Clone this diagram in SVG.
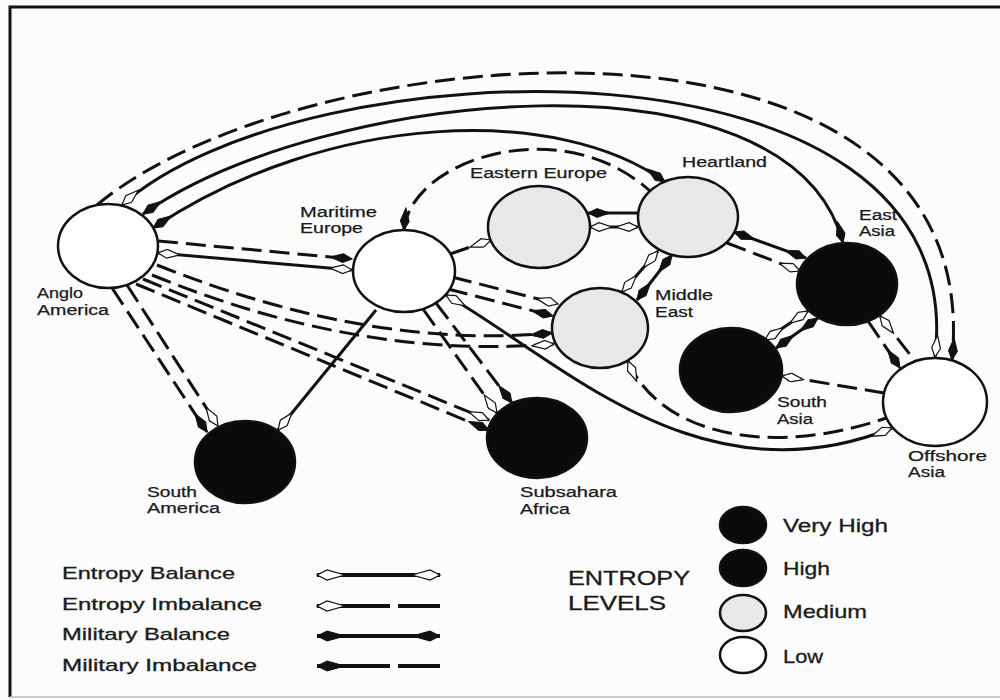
<svg xmlns="http://www.w3.org/2000/svg" width="1000" height="700" viewBox="0 0 1000 700">
<style>
.ln{fill:none;stroke:#111;stroke-width:3}
.ds{stroke-dasharray:20 8}
.nd{stroke:#111;stroke-width:2.5}
.low{fill:#fdfdfd}
.med{fill:#e8e8e8}
.hi{fill:#0a0a0a}
.t{font-family:"Liberation Sans",Arial,sans-serif;font-size:14px;fill:#1a1a1a;stroke:#1a1a1a;stroke-width:0.25}
.lg{font-family:"Liberation Sans",Arial,sans-serif;font-size:17px;fill:#1a1a1a;stroke:#1a1a1a;stroke-width:0.3}
.lv{font-family:"Liberation Sans",Arial,sans-serif;font-size:19px;fill:#1a1a1a;stroke:#1a1a1a;stroke-width:0.3}
.el{font-family:"Liberation Sans",Arial,sans-serif;font-size:20px;fill:#1a1a1a;stroke:#1a1a1a;stroke-width:0.3}
</style>
<defs>
<marker id="o" viewBox="0 0 24 10" refX="23" refY="5" markerWidth="24" markerHeight="10" markerUnits="userSpaceOnUse" orient="auto-start-reverse"><path d="M23,5 L14,0.6 L1,5 L14,9.4 Z" fill="#fff" stroke="#111" stroke-width="1.2"/></marker>
<marker id="f" viewBox="0 0 24 10" refX="23" refY="5" markerWidth="24" markerHeight="10" markerUnits="userSpaceOnUse" orient="auto-start-reverse"><path d="M23,5 L14,0.6 L1,5 L14,9.4 Z" fill="#111" stroke="#111" stroke-width="1"/></marker>
<marker id="lo" viewBox="0 0 30 12" refX="29" refY="6" markerWidth="30" markerHeight="12" markerUnits="userSpaceOnUse" orient="auto-start-reverse"><path d="M29,6 L19,1 L1,6 L19,11 Z" fill="#fff" stroke="#111" stroke-width="1.2"/></marker>
<marker id="lf" viewBox="0 0 30 12" refX="29" refY="6" markerWidth="30" markerHeight="12" markerUnits="userSpaceOnUse" orient="auto-start-reverse"><path d="M29,6 L19,1 L1,6 L19,11 Z" fill="#111" stroke="#111" stroke-width="1"/></marker>
</defs>
<rect x="0" y="0" width="1000" height="700" fill="#fcfcfc"/>
<path d="M1000,7 H10 V697" fill="none" stroke="#111" stroke-width="3"/>
<line x1="10" y1="697" x2="1000" y2="697" stroke="#bbb" stroke-width="1.5"/>

<g id="connectors">
<path class="ln ds" d="M97,205 C300,35 990,-25 952,360" marker-end="url(#f)"/>
<path class="ln" d="M122,205 C300,45 975,20 935,357" marker-start="url(#o)" marker-end="url(#o)"/>
<path class="ln" d="M143,214 C320,90 790,40 843,243" marker-start="url(#f)" marker-end="url(#f)"/>
<path class="ln" d="M153,228 C330,110 560,105 665,182" marker-start="url(#f)" marker-end="url(#f)"/>
<path class="ln ds" d="M158,241 L352,259" marker-end="url(#f)"/>
<path class="ln" d="M158,253 L352,270" marker-start="url(#o)" marker-end="url(#o)"/>
<path class="ln ds" d="M157,265 Q370,350 552,333" marker-end="url(#f)"/>
<path class="ln ds" d="M152,275 Q360,360 554,344" marker-end="url(#o)"/>
<path class="ln ds" d="M143,279 L489,420" marker-end="url(#o)"/>
<path class="ln ds" d="M136,284 L489,430" marker-end="url(#f)"/>
<path class="ln ds" d="M112,288 L207,432" marker-end="url(#f)"/>
<path class="ln ds" d="M127,285 L218,426" marker-end="url(#o)"/>
<path class="ln" d="M376,310 L278,430" marker-end="url(#o)"/>
<path class="ln ds" d="M452,277 L558,304" marker-end="url(#o)"/>
<path class="ln ds" d="M448,289 L553,316" marker-end="url(#f)"/>
<path class="ln ds" d="M423,309 L497,413" marker-end="url(#o)"/>
<path class="ln ds" d="M436,303 L512,403" marker-end="url(#f)"/>
<path class="ln" d="M446,295 C560,360 700,505 892,428" marker-start="url(#o)" marker-end="url(#o)"/>
<path class="ln ds" d="M450,254 L491,240" marker-end="url(#o)"/>
<path class="ln ds" d="M404,230 C410,160 560,110 650,191" marker-start="url(#f)"/>
<path class="ln" d="M638,213 L588,213" marker-end="url(#f)"/>
<path class="ln" d="M590,227 L638,227" marker-start="url(#o)" marker-end="url(#o)"/>
<path class="ln" d="M622,292 L658,251" marker-start="url(#o)" marker-end="url(#o)"/>
<path class="ln" d="M637,300 L672,255" marker-start="url(#f)" marker-end="url(#f)"/>
<path class="ln" d="M734,232 L806,258" marker-start="url(#f)" marker-end="url(#f)"/>
<path class="ln ds" d="M727,243 L800,271" marker-end="url(#o)"/>
<path class="ln" d="M765,340 L808,311" marker-start="url(#o)" marker-end="url(#o)"/>
<path class="ln" d="M776,348 L818,318" marker-start="url(#f)" marker-end="url(#f)"/>
<path class="ln ds" d="M868,321 L900,368" marker-end="url(#f)"/>
<path class="ln ds" d="M880,316 L915,361" marker-start="url(#o)"/>
<path class="ln ds" d="M782,376 L884,393" marker-start="url(#o)"/>
<path class="ln ds" d="M628,361 C660,435 770,458 886,418" marker-start="url(#o)"/>
</g>

<g id="anglo-america">
<ellipse class="nd low" cx="108" cy="246" rx="50" ry="42"/>
<text class="t" x="37" y="298" textLength="46" lengthAdjust="spacingAndGlyphs">Anglo</text>
<text class="t" x="37" y="315" textLength="72" lengthAdjust="spacingAndGlyphs">America</text>
</g>
<g id="maritime-europe">
<ellipse class="nd low" cx="404" cy="271" rx="51" ry="41"/>
<text class="t" x="300" y="217" textLength="77" lengthAdjust="spacingAndGlyphs">Maritime</text>
<text class="t" x="300" y="233" textLength="63" lengthAdjust="spacingAndGlyphs">Europe</text>
</g>
<g id="eastern-europe">
<ellipse class="nd med" cx="539" cy="227" rx="51" ry="41"/>
<text class="t" x="470" y="178" textLength="137" lengthAdjust="spacingAndGlyphs">Eastern Europe</text>
</g>
<g id="heartland">
<ellipse class="nd med" cx="688" cy="217" rx="50" ry="40"/>
<text class="t" x="682" y="167" textLength="85" lengthAdjust="spacingAndGlyphs">Heartland</text>
</g>
<g id="east-asia">
<ellipse class="nd hi" cx="847" cy="284" rx="50" ry="41"/>
<text class="t" x="859" y="220" textLength="38" lengthAdjust="spacingAndGlyphs">East</text>
<text class="t" x="859" y="236" textLength="36" lengthAdjust="spacingAndGlyphs">Asia</text>
</g>
<g id="middle-east">
<ellipse class="nd med" cx="600" cy="328" rx="48" ry="40"/>
<text class="t" x="655" y="300" textLength="58" lengthAdjust="spacingAndGlyphs">Middle</text>
<text class="t" x="655" y="317" textLength="38" lengthAdjust="spacingAndGlyphs">East</text>
</g>
<g id="south-asia">
<ellipse class="nd hi" cx="731" cy="370" rx="51" ry="42"/>
<text class="t" x="777" y="407" textLength="50" lengthAdjust="spacingAndGlyphs">South</text>
<text class="t" x="777" y="424" textLength="36" lengthAdjust="spacingAndGlyphs">Asia</text>
</g>
<g id="offshore-asia">
<ellipse class="nd low" cx="935" cy="402" rx="52" ry="44"/>
<text class="t" x="908" y="461" textLength="79" lengthAdjust="spacingAndGlyphs">Offshore</text>
<text class="t" x="908" y="477" textLength="37" lengthAdjust="spacingAndGlyphs">Asia</text>
</g>
<g id="south-america">
<ellipse class="nd hi" cx="245" cy="462" rx="50" ry="41"/>
<text class="t" x="147" y="497" textLength="50" lengthAdjust="spacingAndGlyphs">South</text>
<text class="t" x="147" y="513" textLength="73" lengthAdjust="spacingAndGlyphs">America</text>
</g>
<g id="subsahara-africa">
<ellipse class="nd hi" cx="537" cy="438" rx="50" ry="40"/>
<text class="t" x="520" y="497" textLength="97" lengthAdjust="spacingAndGlyphs">Subsahara</text>
<text class="t" x="520" y="514" textLength="50" lengthAdjust="spacingAndGlyphs">Africa</text>
</g>

<g id="legend-lines">
<text class="lg" x="62" y="579" textLength="173" lengthAdjust="spacingAndGlyphs">Entropy Balance</text>
<text class="lg" x="62" y="610" textLength="200" lengthAdjust="spacingAndGlyphs">Entropy Imbalance</text>
<text class="lg" x="62" y="640" textLength="168" lengthAdjust="spacingAndGlyphs">Military Balance</text>
<text class="lg" x="62" y="671" textLength="195" lengthAdjust="spacingAndGlyphs">Military Imbalance</text>
<path d="M317,575 H440" fill="none" stroke="#111" stroke-width="4" marker-start="url(#lo)" marker-end="url(#lo)"/>
<path d="M317,606 H440" fill="none" stroke="#111" stroke-width="4" stroke-dasharray="73 8 50" marker-start="url(#lo)"/>
<path d="M317,636 H440" fill="none" stroke="#111" stroke-width="4" marker-start="url(#lf)" marker-end="url(#lf)"/>
<path d="M317,666 H440" fill="none" stroke="#111" stroke-width="4" stroke-dasharray="73 8 50" marker-start="url(#lf)"/>
</g>
<g id="legend-levels">
<text class="el" x="568" y="585" textLength="122" lengthAdjust="spacingAndGlyphs">ENTROPY</text>
<text class="el" x="568" y="610" textLength="98" lengthAdjust="spacingAndGlyphs">LEVELS</text>
<ellipse class="nd hi" cx="743" cy="525" rx="23" ry="18"/>
<ellipse class="nd hi" cx="743" cy="568" rx="23" ry="18"/>
<ellipse class="nd med" cx="743" cy="613" rx="23" ry="18"/>
<ellipse class="nd low" cx="743" cy="655" rx="23" ry="18"/>
<text class="lv" x="783" y="532" textLength="105" lengthAdjust="spacingAndGlyphs">Very High</text>
<text class="lv" x="783" y="575" textLength="47" lengthAdjust="spacingAndGlyphs">High</text>
<text class="lv" x="783" y="618" textLength="84" lengthAdjust="spacingAndGlyphs">Medium</text>
<text class="lv" x="783" y="663" textLength="40" lengthAdjust="spacingAndGlyphs">Low</text>
</g>
</svg>
